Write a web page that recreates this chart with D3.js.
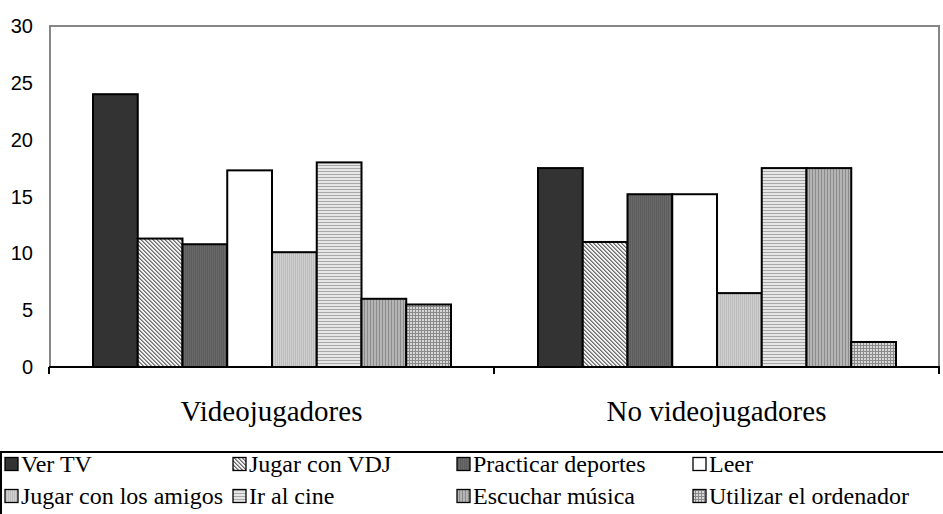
<!DOCTYPE html>
<html>
<head>
<meta charset="utf-8">
<script src="https://cdn.jsdelivr.net/npm/d3@7"></script>
<style>
  body { margin: 0; background: #fff; }
  svg { display: block; }
  .serif { font-family: "Liberation Serif", "Times New Roman", Times, serif; }
  .sans { font-family: "Liberation Sans", Arial, Helvetica, sans-serif; }
</style>
</head>
<body>
<script>
var groups = ["Videojugadores", "No videojugadores"];
var series = ["Ver TV", "Jugar con VDJ", "Practicar deportes", "Leer",
  "Jugar con los amigos", "Ir al cine", "Escuchar música", "Utilizar el ordenador"];
var videojugadores = [24.0, 11.3, 10.8, 17.3, 10.1, 18.0, 6.0, 5.5];
var noVideojugadores = [17.5, 11.0, 15.2, 15.2, 6.5, 17.5, 17.5, 2.2];
var yTicks = [0, 5, 10, 15, 20, 25, 30];

var width = 943, height = 514;

var svg = d3.select("body").append("svg")
  .attr("width", width)
  .attr("height", height);

// fill patterns, one per series
var defs = svg.append("defs");

function pattern(id, w, h) {
  return defs.append("pattern")
    .attr("id", id)
    .attr("patternUnits", "userSpaceOnUse")
    .attr("width", w)
    .attr("height", h);
}

function px(p, x, y, w, h, c) {
  p.append("rect").attr("x", x).attr("y", y).attr("width", w).attr("height", h).attr("fill", c);
}

// diagonal checker for "Jugar con VDJ"
var p1 = pattern("p-vdj", 4, 4);
px(p1, 0, 0, 4, 4, "#f0f0f0");
[[0, 0], [1, 1], [2, 2], [3, 3]].forEach(function (c) { px(p1, c[0], c[1], 1, 1, "#707070"); });
[[1, 0], [2, 1], [3, 2], [0, 3]].forEach(function (c) { px(p1, c[0], c[1], 1, 1, "#a0a0a0"); });

// dark vertical texture for "Practicar deportes"
var p2 = pattern("p-dep", 2, 2);
px(p2, 0, 0, 2, 2, "#6a6a6a");
px(p2, 0, 0, 1, 2, "#5c5c5c");

// light vertical lines for "Jugar con los amigos"
var p3 = pattern("p-ami", 2, 2);
px(p3, 0, 0, 2, 2, "#d0d0d0");
px(p3, 0, 0, 1, 2, "#bcbcbc");

// horizontal lines for "Ir al cine"
var p4 = pattern("p-cine", 3, 3);
px(p4, 0, 0, 3, 3, "#e6e6e6");
px(p4, 0, 0, 3, 1, "#a8a8a8");

// vertical lines for "Escuchar música"
var p5 = pattern("p-mus", 3, 3);
px(p5, 0, 0, 3, 3, "#b4b4b4");
px(p5, 0, 0, 1, 3, "#8c8c8c");

// grid for "Utilizar el ordenador"
var p6 = pattern("p-ord", 3, 3);
px(p6, 0, 0, 3, 3, "#d8d8d8");
px(p6, 0, 0, 1, 3, "#8a8a8a");
px(p6, 0, 0, 3, 1, "#8a8a8a");

var fills = ["#333333", "url(#p-vdj)", "url(#p-dep)", "#ffffff",
  "url(#p-ami)", "url(#p-cine)", "url(#p-mus)", "url(#p-ord)"];

var color = d3.scaleOrdinal().domain(series).range(fills);

var plot = { left: 49, right: 939, top: 26, bottom: 367 };

var x0 = d3.scaleBand()
  .domain(groups)
  .range([plot.left, plot.right]);

var x1 = d3.scaleBand()
  .domain(series)
  .range([44, x0.bandwidth() - 43]);

var y = d3.scaleLinear()
  .domain([0, 30])
  .range([plot.bottom, plot.top]);

// plot area frame (grey)
svg.append("path")
  .attr("d", "M" + (plot.left + 1) + "," + plot.bottom + "V" + plot.top + "H" + plot.right + "V" + plot.bottom)
  .attr("fill", "none")
  .attr("stroke", "#868686")
  .attr("stroke-width", 2);

// y labels
svg.append("g")
  .selectAll("text")
  .data(yTicks)
  .enter()
  .append("text")
  .attr("class", "sans")
  .attr("x", 33)
  .attr("y", function (d) { return y(d); })
  .attr("dy", "0.35em")
  .attr("text-anchor", "end")
  .style("font-size", "20px")
  .attr("fill", "#000")
  .text(function (d) { return d; });

// bars
var table = groups.map(function (g, i) {
  var vals = i === 0 ? videojugadores : noVideojugadores;
  return { group: g, values: series.map(function (s, j) { return { key: s, value: vals[j] }; }) };
});

svg.append("g")
  .selectAll("g")
  .data(table)
  .enter()
  .append("g")
  .attr("transform", function (d) { return "translate(" + x0(d.group) + ",0)"; })
  .selectAll("rect")
  .data(function (d) { return d.values; })
  .enter()
  .append("rect")
  .attr("x", function (d) { return x1(d.key); })
  .attr("y", function (d) { return y(d.value); })
  .attr("width", x1.bandwidth())
  .attr("height", function (d) { return y(0) - y(d.value); })
  .attr("fill", function (d) { return color(d.key); })
  .attr("stroke", "#000")
  .attr("stroke-width", 2);

// x axis
var xAxis = svg.append("g")
  .attr("transform", "translate(0," + plot.bottom + ")");
xAxis.append("line")
  .attr("x1", plot.left).attr("x2", plot.right + 1)
  .attr("stroke", "#000").attr("stroke-width", 2);
xAxis.selectAll(".tick")
  .data([plot.left, x0(groups[1]), plot.right])
  .enter()
  .append("line")
  .attr("x1", function (d) { return d; })
  .attr("x2", function (d) { return d; })
  .attr("y1", 0).attr("y2", 7)
  .attr("stroke", "#000").attr("stroke-width", 2);

svg.append("g")
  .selectAll("text")
  .data(groups)
  .enter()
  .append("text")
  .attr("class", "serif")
  .attr("x", function (d) { return x0(d) + x0.bandwidth() / 2; })
  .attr("y", 421)
  .attr("text-anchor", "middle")
  .style("font-size", "29px")
  .attr("fill", "#000")
  .text(function (d) { return d; });

// legend
var legend = svg.append("g");
legend.append("rect")
  .attr("x", 1).attr("y", 452)
  .attr("width", 960).attr("height", 80)
  .attr("fill", "#fff")
  .attr("stroke", "#000")
  .attr("stroke-width", 2);

var legendCols = [4, 232, 456, 692];
var legendRows = [464, 496];

var item = legend.selectAll("g.item")
  .data(series)
  .enter()
  .append("g")
  .attr("class", "item")
  .attr("transform", function (d, i) {
    return "translate(" + legendCols[i % 4] + "," + legendRows[Math.floor(i / 4)] + ")";
  });

item.append("rect")
  .attr("x", 1).attr("y", -6.5)
  .attr("width", 13).attr("height", 13)
  .attr("fill", function (d) { return color(d); })
  .attr("stroke", "#000")
  .attr("stroke-width", 1.3);

item.append("text")
  .attr("class", "serif")
  .attr("x", 17)
  .attr("dy", "0.35em")
  .style("font-size", "24px")
  .attr("fill", "#000")
  .text(function (d) { return d; });
</script>
</body>
</html>
